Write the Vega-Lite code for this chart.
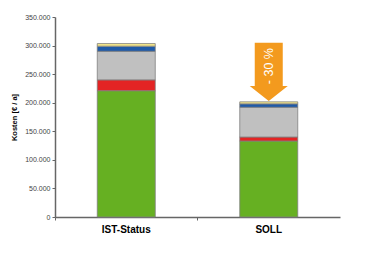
{
  "$schema": "https://vega.github.io/schema/vega-lite/v6.json",
  "autosize": {"type": "none"},
  "width": 285,
  "height": 200,
  "padding": {"left": 55, "top": 17, "right": 40, "bottom": 38},
  "background": "white",
  "config": {"view": {"stroke": null}, "font": "Liberation Sans"},
  "datasets": {
    "bars": [
      {"kat": "IST-Status", "teil": "A", "ord": 1, "wert": 221000},
      {"kat": "IST-Status", "teil": "B", "ord": 2, "wert": 19000},
      {"kat": "IST-Status", "teil": "C", "ord": 3, "wert": 50000},
      {"kat": "IST-Status", "teil": "D", "ord": 4, "wert": 9000},
      {"kat": "IST-Status", "teil": "E", "ord": 5, "wert": 4500},
      {"kat": "SOLL", "teil": "A", "ord": 1, "wert": 133000},
      {"kat": "SOLL", "teil": "B", "ord": 2, "wert": 7000},
      {"kat": "SOLL", "teil": "C", "ord": 3, "wert": 52000},
      {"kat": "SOLL", "teil": "D", "ord": 4, "wert": 6000},
      {"kat": "SOLL", "teil": "E", "ord": 5, "wert": 3500}
    ],
    "pfeil": [
      {"kat": "SOLL", "y": 254000, "ty": 264000, "label": "- 30 %"}
    ]
  },
  "encoding": {
    "x": {
      "field": "kat", "type": "nominal", "sort": ["IST-Status", "SOLL"],
      "scale": {"paddingInner": 0, "paddingOuter": 0},
      "axis": {
        "title": null, "labelAngle": 0, "labelFontWeight": "bold", "labelFontSize": 10,
        "labelColor": "#000", "bandPosition": 0, "tickSize": 3, "labelPadding": 4,
        "domainColor": "#666", "domainWidth": 1.5, "tickColor": "#666", "tickWidth": 1
      }
    }
  },
  "resolve": {"axis": {"y": "shared"}},
  "layer": [
    {
      "data": {"name": "bars"},
      "mark": {"type": "bar", "size": 58, "stroke": "#808080", "strokeWidth": 0.8},
      "encoding": {
        "y": {
          "field": "wert", "type": "quantitative", "stack": "zero",
          "scale": {"domain": [0, 350000], "nice": false},
          "axis": {
            "title": "Kosten [€ / a]", "titleFontSize": 7.5, "titleFontWeight": "bold",
            "titleColor": "#000", "titlePadding": 6,
            "values": [0, 50000, 100000, 150000, 200000, 250000, 300000, 350000],
            "labelExpr": "replace(format(datum.value, ','), /,/g, '.')",
            "labelOverlap": false, "labelFlush": false, "labelBound": false,
            "labelFontSize": 7, "labelColor": "#444", "labelPadding": 2,
            "tickSize": 3, "tickColor": "#666", "domainColor": "#666", "domainWidth": 1.5,
            "grid": false
          }
        },
        "color": {
          "field": "teil", "type": "nominal", "legend": null,
          "scale": {"domain": ["A", "B", "C", "D", "E"], "range": ["#66b022", "#e32424", "#c0c0c0", "#1f5aa8", "#f7e98a"]}
        },
        "order": {"field": "ord", "type": "quantitative"}
      }
    },
    {
      "data": {"name": "pfeil"},
      "mark": {
        "type": "point", "filled": true, "color": "#f39a1e", "opacity": 1, "size": 1444,
        "shape": "M-0.737,-1.534L0.737,-1.534L0.737,0.745L1,0.745L0,1.534L-1,0.745L-0.737,0.745Z"
      },
      "encoding": {
        "y": {
          "field": "y", "type": "quantitative",
          "axis": {
            "title": "Kosten [€ / a]", "titleFontSize": 7.5, "titleFontWeight": "bold",
            "titleColor": "#000", "titlePadding": 6,
            "values": [0, 50000, 100000, 150000, 200000, 250000, 300000, 350000],
            "labelExpr": "replace(format(datum.value, ','), /,/g, '.')",
            "labelOverlap": false, "labelFlush": false, "labelBound": false,
            "labelFontSize": 7, "labelColor": "#444", "labelPadding": 2,
            "tickSize": 3, "tickColor": "#666", "domainColor": "#666", "domainWidth": 1.5,
            "grid": false
          }
        }
      }
    },
    {
      "data": {"name": "pfeil"},
      "mark": {"type": "text", "angle": 270, "color": "white", "fontSize": 12.5, "align": "center", "baseline": "middle"},
      "encoding": {
        "y": {
          "field": "ty", "type": "quantitative",
          "axis": {
            "title": "Kosten [€ / a]", "titleFontSize": 7.5, "titleFontWeight": "bold",
            "titleColor": "#000", "titlePadding": 6,
            "values": [0, 50000, 100000, 150000, 200000, 250000, 300000, 350000],
            "labelExpr": "replace(format(datum.value, ','), /,/g, '.')",
            "labelOverlap": false, "labelFlush": false, "labelBound": false,
            "labelFontSize": 7, "labelColor": "#444", "labelPadding": 2,
            "tickSize": 3, "tickColor": "#666", "domainColor": "#666", "domainWidth": 1.5,
            "grid": false
          }
        },
        "text": {"field": "label"}
      }
    }
  ]
}
